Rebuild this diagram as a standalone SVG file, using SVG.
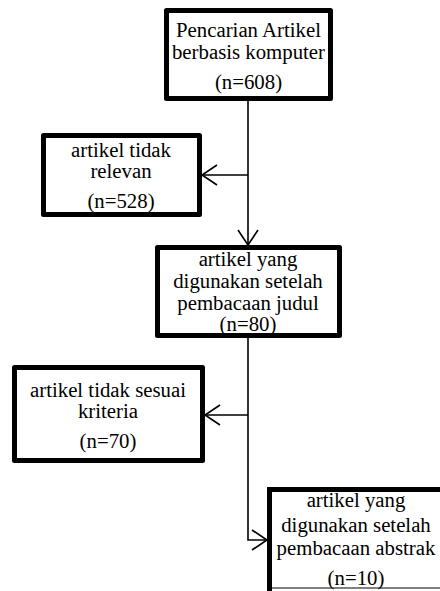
<svg xmlns="http://www.w3.org/2000/svg" width="440" height="591" viewBox="0 0 440 591">
<style>
.box{fill:#fff;stroke:#000;stroke-width:5;stroke-linejoin:round}
.t{font-family:'Liberation Serif','Times New Roman','DejaVu Serif',serif;font-size:20.8px;fill:#000;text-anchor:middle}
.c{fill:none;stroke:#000;stroke-width:1.6}
</style>
<defs>
<marker id="ah" markerUnits="userSpaceOnUse" markerWidth="20" markerHeight="24" viewBox="-17 -12 19 24" refX="0" refY="0" orient="auto">
<path d="M-15,-10 L0,0 L-15,10" fill="none" stroke="#000" stroke-width="1.6"/>
</marker>
</defs>
<rect width="440" height="591" fill="#fff"/>
<g id="connectors">
<line class="c" x1="248" y1="101" x2="248" y2="245" marker-end="url(#ah)"/>
<line class="c" x1="248" y1="175" x2="202" y2="175" marker-end="url(#ah)"/>
<polyline class="c" points="248,338 248,540 267,540" marker-end="url(#ah)"/>
<line class="c" x1="248" y1="415" x2="205" y2="415" marker-end="url(#ah)"/>
</g>
<g id="n1">
<rect class="box" x="166.5" y="10.5" width="164" height="88"/>
<text class="t" x="248.5" y="37">Pencarian Artikel</text>
<text class="t" x="248.5" y="59">berbasis komputer</text>
<text class="t" x="248.5" y="89">(n=608)</text>
</g>
<g id="n2">
<rect class="box" x="43.5" y="135.5" width="156" height="79"/>
<text class="t" x="121" y="157">artikel tidak</text>
<text class="t" x="121" y="178">relevan</text>
<text class="t" x="121" y="208">(n=528)</text>
</g>
<g id="n3">
<rect class="box" x="157.5" y="247.5" width="182" height="88"/>
<text class="t" x="248" y="266">artikel yang</text>
<text class="t" x="248" y="288">digunakan setelah</text>
<text class="t" x="248" y="310">pembacaan judul</text>
<text class="t" x="248" y="331">(n=80)</text>
</g>
<g id="n4">
<rect class="box" x="14.5" y="367.5" width="188" height="93"/>
<text class="t" x="108" y="397">artikel tidak sesuai</text>
<text class="t" x="108" y="418">kriteria</text>
<text class="t" x="108" y="448">(n=70)</text>
</g>
<g id="n5">
<rect x="269.5" y="489.5" width="200" height="99" fill="#fff" stroke="none"/>
<path d="M269.5,591 L269.5,489.5 L440,489.5" fill="none" stroke="#000" stroke-width="5"/>
<line x1="269.5" y1="588" x2="440" y2="588" stroke="#000" stroke-width="1"/>
<text class="t" x="356" y="507">artikel yang</text>
<text class="t" x="356" y="532">digunakan setelah</text>
<text class="t" x="356" y="555">pembacaan abstrak</text>
<text class="t" x="356" y="585">(n=10)</text>
</g>
</svg>
